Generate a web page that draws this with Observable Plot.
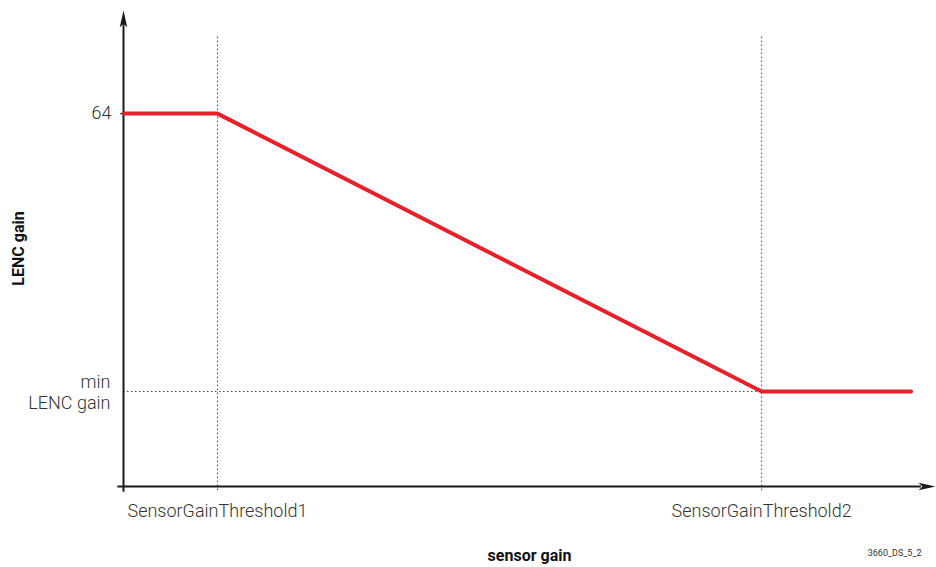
<!DOCTYPE html>
<html><head><meta charset="utf-8">
<script src="https://cdn.jsdelivr.net/npm/d3@7"></script>
<script src="https://cdn.jsdelivr.net/npm/@observablehq/plot@0.6"></script>
<style>
body{margin:0;background:#fff}
#chart svg{display:block}
</style></head><body><div id="chart"></div>
<script>
const sensorGain = [0, 1, 6.79, 8.38];
const lencGain = [64, 64, 16.3, 16.3];
const thresholds = [1, 6.79];
const thresholdLabels = ["SensorGainThreshold1", "SensorGainThreshold2"];
const yTicks = [64, 16.3];
const yTickLabels = ["64", "min\nLENC gain"];
const xTitle = ["sensor gain"];
const yTitle = ["LENC gain"];
const xMax = 8.64, yMax = 81.7;
const figureId = ["3660_DS_5_2"];

const curve = sensorGain.map((x, i) => ({x, y: lencGain[i]}));

const stealth = {draw(ctx) {
  ctx.moveTo(0, 0); ctx.lineTo(-3.8, 17); ctx.lineTo(0, 13); ctx.lineTo(3.8, 17); ctx.closePath();
}};

const plot = Plot.plot({
  width: 936, height: 567,
  marginLeft: 123, marginRight: 1, marginTop: 10, marginBottom: 81,
  style: {fontFamily: "Roboto, sans-serif", fontSize: "18px", color: "#333", background: "#fff"},
  x: {domain: [0, xMax]},
  y: {domain: [0, yMax]},
  marks: [
    Plot.ruleX(thresholds, {y1: -0.7, y2: 77.4, stroke: "#444", strokeWidth: 1, strokeDasharray: "1.5,2.5"}),
    Plot.ruleY([yTicks[1]], {x1: 0, x2: thresholds[1], stroke: "#444", strokeWidth: 1, strokeDasharray: "1.5,2.5"}),
    Plot.ruleX([0], {y1: -1, y2: yMax - 1.5, stroke: "#1a1a1a", strokeWidth: 2}),
    Plot.ruleY([0], {x1: -0.06, x2: xMax - 0.15, stroke: "#1a1a1a", strokeWidth: 2}),
    Plot.dot([{x: 0, y: yMax}], {x: "x", y: "y", symbol: stealth, fill: "#1a1a1a", stroke: "none"}),
    Plot.dot([{x: xMax, y: 0}], {x: "x", y: "y", symbol: stealth, rotate: 90, fill: "#1a1a1a", stroke: "none"}),
    Plot.line(curve, {x: "x", y: "y", stroke: "#e8202a", strokeWidth: 4}),
    Plot.axisX(thresholds, {tickSize: 0, tickPadding: 18, fontWeight: 300, fontSize: 18,
      tickFormat: d => thresholdLabels[thresholds.indexOf(d)], label: null}),
    Plot.axisY([yTicks[0]], {tickSize: 3, tickPadding: 9, fontWeight: 300, fontSize: 18,
      tickFormat: d => yTickLabels[0], label: null}),
    Plot.axisY([yTicks[1]], {tickSize: 0, tickPadding: 13, fontWeight: 300, fontSize: 18, lineHeight: 1.15,
      tickFormat: d => yTickLabels[1], label: null}),
    Plot.text(xTitle, {frameAnchor: "bottom", dy: 74, fontSize: 16, fontWeight: "bold", fill: "#111"}),
    Plot.text(yTitle, {frameAnchor: "left", dx: -105, rotate: -90, textAnchor: "middle", fontSize: 16, fontWeight: "bold", fill: "#111"}),
    Plot.text(figureId, {frameAnchor: "bottom-right", dx: -14, dy: 69, fontSize: 9, fill: "#333"})
  ]
});
document.getElementById("chart").append(plot);
</script></body></html>
